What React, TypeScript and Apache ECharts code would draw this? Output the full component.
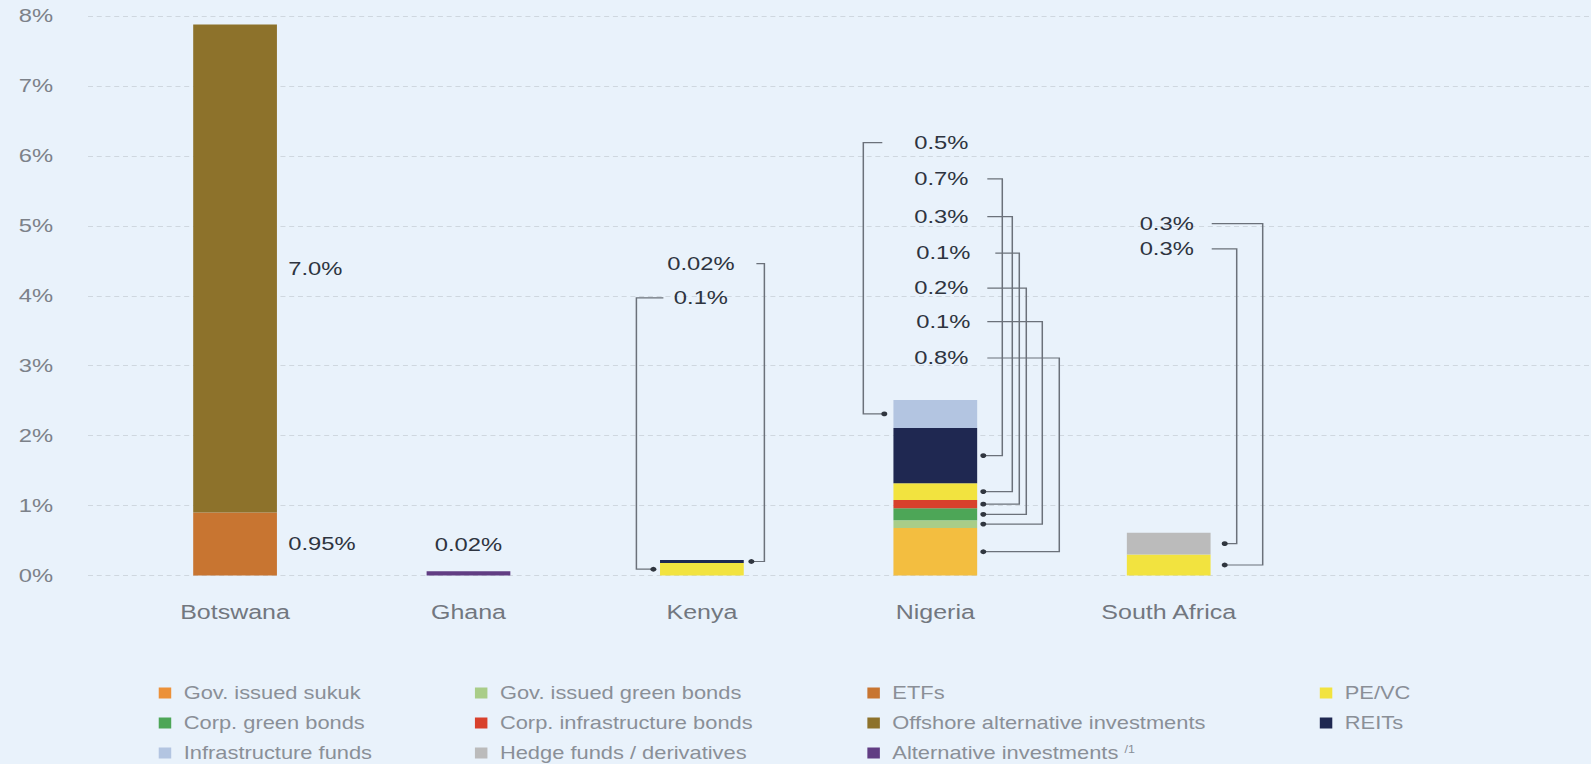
import React, { useEffect, useRef } from "react";
import * as echarts from "echarts";

// The reference is horizontally stretched; draw at a narrower width and stretch.
const PAGE_W = 1591;
const PAGE_H = 764;
const INNER_W = 1273;
const S = PAGE_W / INNER_W;

const FONT = '"Liberation Sans", Arial, Helvetica, sans-serif';
const BG = "#E9F2FB";

// ---------- data ----------
const categories = ["Botswana", "Ghana", "Kenya", "Nigeria", "South Africa"];

const govSukuk = [null, null, null, 0.68, null];
const govGreenBonds = [null, null, null, 0.11, null];
const corpGreenBonds = [null, null, null, 0.17, null];
const corpInfraBonds = [null, null, null, 0.12, null];
const peVc = [null, null, 0.18, 0.24, 0.3];
const reits = [null, null, 0.04, 0.79, null];
const infraFunds = [null, null, null, 0.4, null];
const hedgeFunds = [null, null, null, null, 0.31];
const etfs = [0.9, null, null, null, null];
const offshoreAlt = [6.98, null, null, null, null];
const altInvest = [null, 0.06, null, null, null];

// reported value labels
const etfsLabels = ["0.95%", "", "", "", ""];
const offshoreLabels = ["7.0%", "", "", "", ""];
const altLabels = ["", "0.02%", "", "", ""];
const kenyaLabels = ["0.02%", "0.1%"]; // REITs, PE/VC
const nigeriaLabels = ["0.5%", "0.7%", "0.3%", "0.1%", "0.2%", "0.1%", "0.8%"]; // infra, REITs, PE/VC, corp infra, corp green, gov green, sukuk
const southAfricaLabels = ["0.3%", "0.3%"]; // PE/VC, hedge

const yMax = 8;
const yInterval = 1;

// ---------- series definitions (stack order) ----------
const N_SUKUK = "Gov. issued sukuk";
const N_GOVGREEN = "Gov. issued green bonds";
const N_CORPGREEN = "Corp. green bonds";
const N_CORPINFRA = "Corp. infrastructure bonds";
const N_PEVC = "PE/VC";
const N_REITS = "REITs";
const N_INFRA = "Infrastructure funds";
const N_HEDGE = "Hedge funds / derivatives";
const N_ETFS = "ETFs";
const N_OFFSHORE = "Offshore alternative investments";
const N_ALT = "Alternative investments";

const seriesDefs = [
  { name: N_SUKUK, data: govSukuk, color: "#F3BE40" },
  { name: N_GOVGREEN, data: govGreenBonds, color: "#A9CD88" },
  { name: N_CORPGREEN, data: corpGreenBonds, color: "#4DA657" },
  { name: N_CORPINFRA, data: corpInfraBonds, color: "#D8412C" },
  { name: N_PEVC, data: peVc, color: "#F2E33F" },
  { name: N_REITS, data: reits, color: "#1F2851" },
  { name: N_INFRA, data: infraFunds, color: "#B3C5E1" },
  { name: N_HEDGE, data: hedgeFunds, color: "#BBBBBB" },
  { name: N_ETFS, data: etfs, color: "#C87531", labels: etfsLabels, labelPos: "right" },
  { name: N_OFFSHORE, data: offshoreAlt, color: "#8D722B", labels: offshoreLabels, labelPos: "right" },
  { name: N_ALT, data: altInvest, color: "#613D83", labels: altLabels, labelPos: "top" },
];

// ---------- callout layout (pixel offsets from bar centre, label heights in axis units) ----------
const callouts = [
  // Kenya
  { cat: 2, series: N_REITS, text: kenyaLabels[0], labelY: 4.46, textDx: -0.8, startDx: 43.6, elbowDx: 50, dotDx: 39.6 },
  { cat: 2, series: N_PEVC, text: kenyaLabels[1], labelY: 3.97, textDx: -0.8, startDx: -30.8, elbowDx: -52.4, dotDx: -38.8 },
  // Nigeria
  { cat: 3, series: N_INFRA, text: nigeriaLabels[0], labelY: 6.19, textDx: 4.8, startDx: -42.4, elbowDx: -57.6, dotDx: -40.8 },
  { cat: 3, series: N_REITS, text: nigeriaLabels[1], labelY: 5.67, textDx: 4.8, startDx: 41.6, elbowDx: 53.6, dotDx: 38.4 },
  { cat: 3, series: N_PEVC, text: nigeriaLabels[2], labelY: 5.13, textDx: 4.8, startDx: 41.6, elbowDx: 61.6, dotDx: 38.4 },
  { cat: 3, series: N_CORPINFRA, text: nigeriaLabels[3], labelY: 4.61, textDx: 6.4, startDx: 48, elbowDx: 67.2, dotDx: 38.4 },
  { cat: 3, series: N_CORPGREEN, text: nigeriaLabels[4], labelY: 4.11, textDx: 4.8, startDx: 41.6, elbowDx: 72.8, dotDx: 38.4 },
  { cat: 3, series: N_GOVGREEN, text: nigeriaLabels[5], labelY: 3.63, textDx: 6.4, startDx: 41.6, elbowDx: 85.6, dotDx: 38.4 },
  { cat: 3, series: N_SUKUK, text: nigeriaLabels[6], labelY: 3.11, textDx: 4.8, startDx: 41.6, elbowDx: 99.2, dotDx: 38.4 },
  // South Africa
  { cat: 4, series: N_PEVC, text: southAfricaLabels[0], labelY: 5.03, textDx: -1.6, startDx: 34.4, elbowDx: 75.2, dotDx: 44.8 },
  { cat: 4, series: N_HEDGE, text: southAfricaLabels[1], labelY: 4.67, textDx: -1.6, startDx: 34.4, elbowDx: 54.4, dotDx: 44.8 },
];

const legendColumns = [
  { left: 127, names: [N_SUKUK, N_CORPGREEN, N_INFRA] },
  { left: 380, names: [N_GOVGREEN, N_CORPINFRA, N_HEDGE] },
  { left: 694, names: [N_ETFS, N_OFFSHORE, N_ALT] },
  { left: 1056, names: [N_PEVC, N_REITS] },
];
const legendSwatchOverride: Record<string, string> = { [N_SUKUK]: "#EC9139" };

const GRID_TOP = 16;
const GRID_H = 559.5;

function segmentMid(cat: number, name: string): number {
  let base = 0;
  for (const s of seriesDefs) {
    const v = (s.data[cat] as number | null) ?? 0;
    if (s.name === name) return base + v / 2;
    base += v;
  }
  return base;
}

function buildOption(): any {
  const series = seriesDefs.map((s) => {
    const o: any = {
      name: s.name,
      type: "bar",
      xAxisIndex: 1,
      yAxisIndex: 1,
      stack: "total",
      barWidth: 67,
      data: s.data,
      itemStyle: { color: s.color },
      emphasis: { disabled: true },
    };
    if (s.labels) {
      const labels = s.labels;
      o.label = {
        show: true,
        position: s.labelPos,
        distance: s.labelPos === "top" ? 17 : 9,
        color: "#2E3440",
        fontSize: 19,
        fontFamily: FONT,
        formatter: (p: any) => labels[p.dataIndex] || "",
      };
    }
    return o;
  });

  const legends = legendColumns.map((col) => ({
    orient: "vertical",
    left: col.left,
    top: 684,
    height: 84,
    padding: 0,
    itemWidth: 10,
    itemHeight: 11,
    itemGap: 12,
    icon: "rect",
    selectedMode: false,
    data: col.names.map((n) =>
      legendSwatchOverride[n] ? { name: n, itemStyle: { color: legendSwatchOverride[n] } } : { name: n }
    ),
    formatter: (n: string) => (n === N_ALT ? `${n} {s|/1}` : n),
    textStyle: {
      color: "#8A8F97",
      fontSize: 17.5,
      lineHeight: 18,
      fontFamily: FONT,
      padding: [0, 0, 0, 5],
      rich: { s: { fontSize: 10, lineHeight: 10, color: "#8A8F97", fontFamily: FONT, verticalAlign: "top", padding: [0, 0, 6, 0] } },
    },
  }));

  return {
    animation: false,
    backgroundColor: BG,
    textStyle: { fontFamily: FONT },
    grid: [
      { left: 70.4, right: 0, top: GRID_TOP, height: GRID_H },
      { left: 94.7, width: 933.8, top: GRID_TOP, height: GRID_H },
    ],
    xAxis: [
      { type: "value", gridIndex: 0, min: 0, max: 1, show: false },
      {
        type: "category",
        gridIndex: 1,
        data: categories,
        axisLine: { show: false },
        axisTick: { show: false },
        axisLabel: { color: "#72777F", fontSize: 20, margin: 27, fontFamily: FONT },
      },
    ],
    yAxis: [
      {
        type: "value",
        gridIndex: 0,
        min: 0,
        max: yMax,
        interval: yInterval,
        axisLine: { show: false },
        axisTick: { show: false },
        axisLabel: { formatter: "{value}%", color: "#7C8189", fontSize: 19, margin: 28, fontFamily: FONT },
        splitLine: { show: true, lineStyle: { color: "#CFD7DF", width: 1, type: [4, 3] } },
      },
      { type: "value", gridIndex: 1, min: 0, max: yMax, interval: yInterval, show: false, splitLine: { show: false } },
    ],
    legend: legends,
    tooltip: { show: false },
    series,
  };
}

function buildCallouts(chart: any): any[] {
  const els: any[] = [];
  for (const c of callouts) {
    const [cx, ly] = chart.convertToPixel({ xAxisIndex: 1, yAxisIndex: 1 }, [c.cat, c.labelY]);
    const [, ty] = chart.convertToPixel({ xAxisIndex: 1, yAxisIndex: 1 }, [c.cat, segmentMid(c.cat, c.series)]);
    els.push({
      type: "polyline",
      silent: true,
      shape: {
        points: [
          [cx + c.startDx, ly],
          [cx + c.elbowDx, ly],
          [cx + c.elbowDx, ty],
          [cx + c.dotDx, ty],
        ],
      },
      style: { stroke: "#6B717A", lineWidth: 1.2, fill: null },
    });
    els.push({
      type: "circle",
      silent: true,
      shape: { cx: cx + c.dotDx, cy: ty, r: 2.4 },
      style: { fill: "#30363F" },
    });
    els.push({
      type: "text",
      silent: true,
      x: cx + c.textDx,
      y: ly,
      style: {
        text: c.text,
        fill: "#2E3440",
        fontSize: 19,
        fontFamily: FONT,
        align: "center",
        verticalAlign: "middle",
        textAlign: "center",
        textVerticalAlign: "middle",
      },
    });
  }
  return els;
}

export default function App() {
  const ref = useRef<HTMLDivElement>(null);
  useEffect(() => {
    document.body.style.margin = "0";
    document.body.style.background = BG;
    const el = ref.current!;
    const chart = echarts.init(el, null, { renderer: "svg" });
    chart.setOption(buildOption());
    chart.setOption({ graphic: buildCallouts(chart) });
    return () => chart.dispose();
  }, []);
  return (
    <div
      ref={ref}
      style={{
        position: "fixed",
        left: 0,
        top: 0,
        width: INNER_W,
        height: PAGE_H,
        transform: `scaleX(${S})`,
        transformOrigin: "0 0",
        background: BG,
      }}
    />
  );
}
